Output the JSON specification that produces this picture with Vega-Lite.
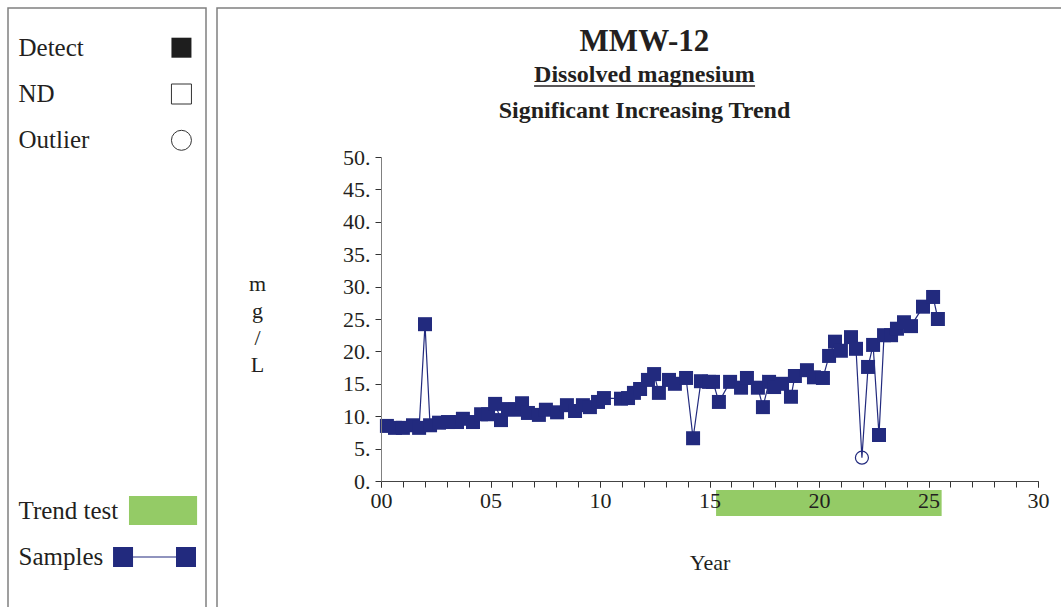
{
  "$schema": "https://vega.github.io/schema/vega-lite/v6.json",
  "padding": {"left": 7, "top": 7, "right": 0, "bottom": 0},
  "background": "white",
  "spacing": 11,
  "bounds": "flush",
  "config": {
    "view": {"stroke": "#808080", "strokeWidth": 1.5},
    "font": "Liberation Serif"
  },
  "datasets": {
    "samples": [
      {"year": 0.27, "value": 8.5, "type": "Detect"},
      {"year": 0.64, "value": 8.2, "type": "Detect"},
      {"year": 1.00, "value": 8.2, "type": "Detect"},
      {"year": 1.46, "value": 8.6, "type": "Detect"},
      {"year": 1.74, "value": 8.2, "type": "Detect"},
      {"year": 2.01, "value": 24.2, "type": "Detect"},
      {"year": 2.24, "value": 8.6, "type": "Detect"},
      {"year": 2.65, "value": 9.0, "type": "Detect"},
      {"year": 3.06, "value": 9.1, "type": "Detect"},
      {"year": 3.47, "value": 9.1, "type": "Detect"},
      {"year": 3.74, "value": 9.6, "type": "Detect"},
      {"year": 4.20, "value": 9.1, "type": "Detect"},
      {"year": 4.57, "value": 10.3, "type": "Detect"},
      {"year": 4.89, "value": 10.3, "type": "Detect"},
      {"year": 5.21, "value": 11.9, "type": "Detect"},
      {"year": 5.48, "value": 9.4, "type": "Detect"},
      {"year": 5.80, "value": 11.1, "type": "Detect"},
      {"year": 6.12, "value": 11.0, "type": "Detect"},
      {"year": 6.44, "value": 12.0, "type": "Detect"},
      {"year": 6.71, "value": 10.5, "type": "Detect"},
      {"year": 7.21, "value": 10.2, "type": "Detect"},
      {"year": 7.53, "value": 11.0, "type": "Detect"},
      {"year": 8.04, "value": 10.6, "type": "Detect"},
      {"year": 8.49, "value": 11.7, "type": "Detect"},
      {"year": 8.86, "value": 10.8, "type": "Detect"},
      {"year": 9.22, "value": 11.7, "type": "Detect"},
      {"year": 9.54, "value": 11.4, "type": "Detect"},
      {"year": 9.91, "value": 12.2, "type": "Detect"},
      {"year": 10.18, "value": 12.8, "type": "Detect"},
      {"year": 10.96, "value": 12.7, "type": "Detect"},
      {"year": 11.28, "value": 12.8, "type": "Detect"},
      {"year": 11.55, "value": 13.6, "type": "Detect"},
      {"year": 11.83, "value": 14.2, "type": "Detect"},
      {"year": 12.19, "value": 15.6, "type": "Detect"},
      {"year": 12.47, "value": 16.5, "type": "Detect"},
      {"year": 12.69, "value": 13.6, "type": "Detect"},
      {"year": 13.15, "value": 15.6, "type": "Detect"},
      {"year": 13.42, "value": 15.0, "type": "Detect"},
      {"year": 13.93, "value": 15.9, "type": "Detect"},
      {"year": 14.25, "value": 6.6, "type": "Detect"},
      {"year": 14.61, "value": 15.4, "type": "Detect"},
      {"year": 14.98, "value": 15.3, "type": "Detect"},
      {"year": 15.16, "value": 15.3, "type": "Detect"},
      {"year": 15.43, "value": 12.2, "type": "Detect"},
      {"year": 15.94, "value": 15.3, "type": "Detect"},
      {"year": 16.44, "value": 14.4, "type": "Detect"},
      {"year": 16.71, "value": 15.9, "type": "Detect"},
      {"year": 17.21, "value": 14.4, "type": "Detect"},
      {"year": 17.44, "value": 11.4, "type": "Detect"},
      {"year": 17.72, "value": 15.3, "type": "Detect"},
      {"year": 17.95, "value": 14.5, "type": "Detect"},
      {"year": 18.31, "value": 15.0, "type": "Detect"},
      {"year": 18.72, "value": 13.0, "type": "Detect"},
      {"year": 18.90, "value": 16.2, "type": "Detect"},
      {"year": 19.45, "value": 17.1, "type": "Detect"},
      {"year": 19.77, "value": 16.0, "type": "Detect"},
      {"year": 20.18, "value": 15.9, "type": "Detect"},
      {"year": 20.46, "value": 19.3, "type": "Detect"},
      {"year": 20.73, "value": 21.5, "type": "Detect"},
      {"year": 21.00, "value": 20.1, "type": "Detect"},
      {"year": 21.46, "value": 22.2, "type": "Detect"},
      {"year": 21.69, "value": 20.4, "type": "Detect"},
      {"year": 21.96, "value": 3.6, "type": "Outlier"},
      {"year": 22.24, "value": 17.6, "type": "Detect"},
      {"year": 22.47, "value": 21.0, "type": "Detect"},
      {"year": 22.74, "value": 7.1, "type": "Detect"},
      {"year": 22.97, "value": 22.5, "type": "Detect"},
      {"year": 23.29, "value": 22.5, "type": "Detect"},
      {"year": 23.56, "value": 23.5, "type": "Detect"},
      {"year": 23.88, "value": 24.5, "type": "Detect"},
      {"year": 24.20, "value": 23.9, "type": "Detect"},
      {"year": 24.75, "value": 26.9, "type": "Detect"},
      {"year": 25.21, "value": 28.4, "type": "Detect"},
      {"year": 25.43, "value": 25.0, "type": "Detect"}
    ],
    "legend": [
      {"label": "Detect", "slot": 1},
      {"label": "ND", "slot": 2},
      {"label": "Outlier", "slot": 3},
      {"label": "Trend test", "slot": 11},
      {"label": "Samples", "slot": 12}
    ],
    "trend": [{"start": 15.3, "end": 25.6}],
    "titles": [
      {"label": "MMW-12"},
      {"label": "Dissolved magnesium"},
      {"label": "Significant Increasing Trend"}
    ]
  },
  "hconcat": [
    {
      "width": 198,
      "height": 600,
      "data": {"name": "legend"},
      "layer": [
        {
          "mark": {"type": "text", "align": "left", "baseline": "middle", "fontSize": 25, "color": "#231f20", "font": "Liberation Serif"},
          "encoding": {
            "x": {"datum": 5.3, "type": "quantitative", "scale": {"domain": [0, 100], "range": [0, 198]}, "axis": null},
            "y": {"field": "slot", "type": "quantitative", "scale": {"domain": [1, 12], "range": [39.7, 549]}, "axis": null},
            "text": {"field": "label"}
          }
        },
        {
          "transform": [{"filter": "datum.label === 'Detect'"}],
          "mark": {"type": "point", "shape": "square", "filled": true, "size": 400, "color": "#1e1e1e", "opacity": 1},
          "encoding": {
            "x": {"datum": 87.6, "type": "quantitative"},
            "y": {"field": "slot", "type": "quantitative"}
          }
        },
        {
          "transform": [{"filter": "datum.label === 'ND'"}],
          "mark": {"type": "point", "shape": "square", "filled": false, "size": 400, "stroke": "#333333", "strokeWidth": 1, "opacity": 1},
          "encoding": {
            "x": {"datum": 87.6, "type": "quantitative"},
            "y": {"field": "slot", "type": "quantitative"}
          }
        },
        {
          "transform": [{"filter": "datum.label === 'Outlier'"}],
          "mark": {"type": "point", "shape": "circle", "filled": false, "size": 400, "stroke": "#333333", "strokeWidth": 1, "opacity": 1},
          "encoding": {
            "x": {"datum": 87.6, "type": "quantitative"},
            "y": {"field": "slot", "type": "quantitative"}
          }
        },
        {
          "transform": [{"filter": "datum.label === 'Trend test'"}],
          "mark": {"type": "rect", "color": "#94cb66"},
          "encoding": {
            "x": {"datum": 61.1, "type": "quantitative"},
            "x2": {"datum": 95.5},
            "y": {"datum": 10.68, "type": "quantitative"},
            "y2": {"datum": 11.31}
          }
        },
        {
          "transform": [{"filter": "datum.label === 'Samples'"}],
          "mark": {"type": "rule", "color": "#222a7e", "strokeWidth": 1.2},
          "encoding": {
            "x": {"datum": 58.1, "type": "quantitative"},
            "x2": {"datum": 89.9},
            "y": {"field": "slot", "type": "quantitative"}
          }
        },
        {
          "transform": [{"filter": "datum.label === 'Samples'"}],
          "mark": {"type": "point", "shape": "square", "filled": true, "size": 400, "color": "#222a7e", "opacity": 1},
          "encoding": {
            "x": {"datum": 58.1, "type": "quantitative"},
            "y": {"field": "slot", "type": "quantitative"}
          }
        },
        {
          "transform": [{"filter": "datum.label === 'Samples'"}],
          "mark": {"type": "point", "shape": "square", "filled": true, "size": 400, "color": "#222a7e", "opacity": 1},
          "encoding": {
            "x": {"datum": 89.9, "type": "quantitative"},
            "y": {"field": "slot", "type": "quantitative"}
          }
        }
      ]
    },
    {
      "width": 845,
      "height": 600,
      "data": {"name": "samples"},
      "resolve": {"axis": {"x": "independent"}},
      "layer": [
        {
          "data": {"name": "trend"},
          "mark": {"type": "rect", "color": "#94cb66"},
          "encoding": {
            "x": {
              "field": "start", "type": "quantitative",
              "scale": {"domain": [0, 30], "range": [164, 821], "nice": false, "zero": false},
              "axis": {
                "orient": "bottom",
                "values": [0,1,2,3,4,5,6,7,8,9,10,11,12,13,14,15,16,17,18,19,20,21,22,23,24,25,26,27,28,29,30],
                "labels": false,
                "offset": -127,
                "tickSize": 6,
                "tickColor": "#333333",
                "domainColor": "#444444",
                "grid": false,
                "title": null,
                "zindex": 1
              }
            },
            "x2": {"field": "end"},
            "y": {
              "datum": -1.39, "type": "quantitative",
              "scale": {"domain": [0, 50], "range": [473, 149], "nice": false, "zero": false},
              "axis": {
                "values": [0, 5, 10, 15, 20, 25, 30, 35, 40, 45, 50],
                "labelExpr": "datum.value + '.'",
                "offset": -164,
                "tickSize": 6,
                "tickColor": "#333333",
                "domainColor": "#808080",
                "labelPadding": 5,
                "labelFontSize": 22,
                "labelFont": "Liberation Serif",
                "labelColor": "#231f20",
                "labelOverlap": false,
                "labelFlush": false,
                "grid": false,
                "title": ["m", "g", "/", "L"],
                "titleFont": "Liberation Serif",
                "titleFontSize": 22,
                "titleFontWeight": "normal",
                "titleColor": "#231f20",
                "titleAngle": 0,
                "titleLineHeight": 27,
                "titleX": -124,
                "titleY": 275,
                "titleBaseline": "middle",
                "titleAlign": "center",
                "zindex": 1
              }
            },
            "y2": {"datum": -5.4}
          }
        },
        {
          "mark": {"type": "line", "color": "#222a7e", "strokeWidth": 1.2},
          "encoding": {
            "x": {
              "field": "year", "type": "quantitative",
              "axis": {
                "orient": "bottom",
                "values": [0, 5, 10, 15, 20, 25, 30],
                "labelExpr": "datum.value < 10 ? '0' + datum.value : '' + datum.value",
                "offset": -127,
                "tickSize": 6,
                "tickColor": "#333333",
                "domain": false,
                "labelPadding": 3,
                "labelFontSize": 22,
                "labelFont": "Liberation Serif",
                "labelColor": "#231f20",
                "labelOverlap": false,
                "labelFlush": false,
                "grid": false,
                "title": "Year",
                "titleFont": "Liberation Serif",
                "titleFontSize": 22,
                "titleFontWeight": "normal",
                "titleColor": "#231f20",
                "titleX": 492.5,
                "titleY": 81,
                "titleBaseline": "middle",
                "titleAlign": "center",
                "zindex": 1
              }
            },
            "y": {"field": "value", "type": "quantitative"}
          }
        },
        {
          "transform": [{"filter": "datum.type === 'Detect'"}],
          "mark": {"type": "point", "shape": "square", "filled": true, "size": 196, "color": "#222a7e", "opacity": 1},
          "encoding": {
            "x": {"field": "year", "type": "quantitative", "axis": null},
            "y": {"field": "value", "type": "quantitative"}
          }
        },
        {
          "transform": [{"filter": "datum.type === 'Outlier'"}],
          "mark": {"type": "point", "shape": "circle", "filled": false, "size": 169, "stroke": "#222a7e", "strokeWidth": 1.2, "opacity": 1},
          "encoding": {
            "x": {"field": "year", "type": "quantitative", "axis": null},
            "y": {"field": "value", "type": "quantitative"}
          }
        },
        {
          "data": {"name": "titles"},
          "transform": [{"filter": "datum.label === 'MMW-12'"}],
          "mark": {"type": "text", "align": "center", "baseline": "alphabetic", "fontSize": 31, "fontWeight": "bold", "color": "#231f20", "font": "Liberation Serif"},
          "encoding": {
            "x": {"datum": 12.03, "type": "quantitative", "axis": null},
            "y": {"datum": 66.36, "type": "quantitative"},
            "text": {"field": "label"}
          }
        },
        {
          "data": {"name": "titles"},
          "transform": [{"filter": "datum.label === 'Dissolved magnesium'"}],
          "mark": {"type": "text", "align": "center", "baseline": "alphabetic", "fontSize": 24, "fontWeight": "bold", "color": "#231f20", "font": "Liberation Serif"},
          "encoding": {
            "x": {"datum": 12.03, "type": "quantitative", "axis": null},
            "y": {"datum": 61.65, "type": "quantitative"},
            "text": {"field": "label"}
          }
        },
        {
          "data": {"name": "titles"},
          "transform": [{"filter": "datum.label === 'Dissolved magnesium'"}],
          "mark": {"type": "rule", "color": "#231f20", "strokeWidth": 1.5},
          "encoding": {
            "x": {"datum": 6.99, "type": "quantitative", "axis": null},
            "x2": {"datum": 17.08},
            "y": {"datum": 60.96, "type": "quantitative"}
          }
        },
        {
          "data": {"name": "titles"},
          "transform": [{"filter": "datum.label === 'Significant Increasing Trend'"}],
          "mark": {"type": "text", "align": "center", "baseline": "alphabetic", "fontSize": 24, "fontWeight": "bold", "color": "#231f20", "font": "Liberation Serif"},
          "encoding": {
            "x": {"datum": 12.03, "type": "quantitative", "axis": null},
            "y": {"datum": 56.0, "type": "quantitative"},
            "text": {"field": "label"}
          }
        }
      ]
    }
  ]
}
